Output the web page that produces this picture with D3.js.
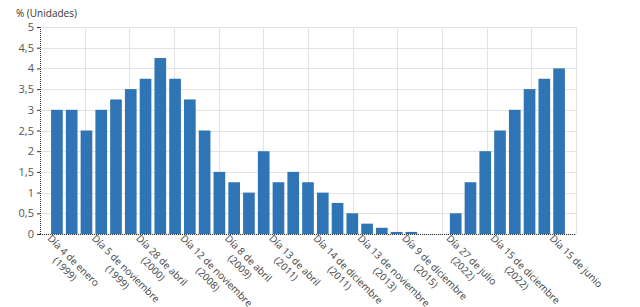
<!DOCTYPE html>
<html>
<head>
<meta charset="utf-8">
<script src="https://cdn.jsdelivr.net/npm/d3@7"></script>
<style>
  body { margin: 0; background: #fff; }
  svg { font-family: "Open Sans", sans-serif; }
</style>
</head>
<body>
<svg id="chart" width="640" height="307"></svg>
<script>
// values, left to right
const rates = [3, 3, 2.5, 3, 3.25, 3.5, 3.75, 4.25, 3.75, 3.25, 2.5, 1.5, 1.25, 1, 2,
  1.25, 1.5, 1.25, 1, 0.75, 0.5, 0.25, 0.15, 0.05, 0.05, 0, 0, 0.5, 1.25, 2, 2.5,
  3, 3.5, 3.75, 4];
const categories = rates.map((d, i) => i);

// bars that carry a label on the x axis
const tickIdx = [0, 3, 6, 9, 12, 15, 18, 21, 24, 27, 30, 34];
const tickLine1 = ["Día 4 de enero", "Día 5 de noviembre", "Día 28 de abril", "Día 12 de noviembre",
  "Día 8 de abril", "Día 13 de abril", "Día 14 de diciembre", "Día 13 de noviembre",
  "Día 9 de diciembre", "Día 27 de julio", "Día 15 de diciembre", "Día 15 de junio"];
const tickLine2 = ["(1999)", "(1999)", "(2000)", "(2008)", "(2009)", "(2011)", "(2011)",
  "(2013)", "(2015)", "(2022)", "(2022)", ""];
const yTicks = [0, 0.5, 1, 1.5, 2, 2.5, 3, 3.5, 4, 4.5, 5];

const svg = d3.select("#chart");
const mLeft = 40, mRight = 576, mTop = 27, mBottom = 234;

const x = d3.scaleBand().domain(categories).range([mLeft, mRight])
  .paddingInner(0.21).paddingOuter(0.75);
const y = d3.scaleLinear().domain([0, 5]).range([mBottom, mTop]);
const xg = d3.scaleLinear().domain([0, tickIdx.length]).range([mLeft, mRight]);

const fmt = v => String(v).replace(".", ",");

// grid
svg.append("g").selectAll("line").data(yTicks).join("line")
  .attr("x1", mLeft).attr("x2", mRight)
  .attr("y1", d => Math.round(y(d)) + 0.5).attr("y2", d => Math.round(y(d)) + 0.5)
  .attr("stroke", "#e3e3e3");
svg.append("g").selectAll("line").data(d3.range(1, tickIdx.length + 1)).join("line")
  .attr("x1", d => Math.round(xg(d)) + 0.5).attr("x2", d => Math.round(xg(d)) + 0.5)
  .attr("y1", mTop).attr("y2", mBottom)
  .attr("stroke", "#e3e3e3");

// bars
svg.append("g").selectAll("rect").data(rates).join("rect")
  .attr("x", (d, i) => x(i))
  .attr("width", x.bandwidth())
  .attr("y", d => y(d))
  .attr("height", d => mBottom - y(d))
  .attr("fill", "#2f75b5");

// y axis
const yAxis = svg.append("g").attr("transform", `translate(${mLeft},0)`)
  .call(d3.axisLeft(y).tickValues(yTicks).tickSize(3).tickFormat(fmt));
yAxis.select(".domain").attr("stroke", "#333").attr("stroke-dasharray", "1,1");
yAxis.selectAll(".tick line").attr("stroke", "#333");
yAxis.selectAll("text").attr("font-size", 11).attr("fill", "#555")
  .attr("font-family", "Open Sans").attr("x", -6);

// x axis line
svg.append("line").attr("x1", mLeft).attr("x2", mRight)
  .attr("y1", mBottom + 0.5).attr("y2", mBottom + 0.5)
  .attr("stroke", "#333").attr("stroke-dasharray", "1,1");

// x labels, rotated
const labels = svg.append("g").selectAll("text").data(tickIdx).join("text")
  .attr("transform", d => `translate(${x(d) + x.bandwidth() / 2 - 10},239) rotate(45)`)
  .attr("font-size", 10).attr("fill", "#444").attr("text-anchor", "middle");
labels.each(function (d, k) {
  const t = d3.select(this);
  const a = t.append("tspan").text(tickLine1[k]);
  const w = a.node().getComputedTextLength();
  a.attr("x", w / 2).attr("y", 0);
  if (tickLine2[k]) t.append("tspan").text(tickLine2[k]).attr("x", w / 2).attr("y", 12);
});

// unit title
svg.append("text").attr("x", 16).attr("y", 17).attr("font-size", 10).attr("fill", "#333")
  .text("% (Unidades)");
</script>
</body>
</html>
